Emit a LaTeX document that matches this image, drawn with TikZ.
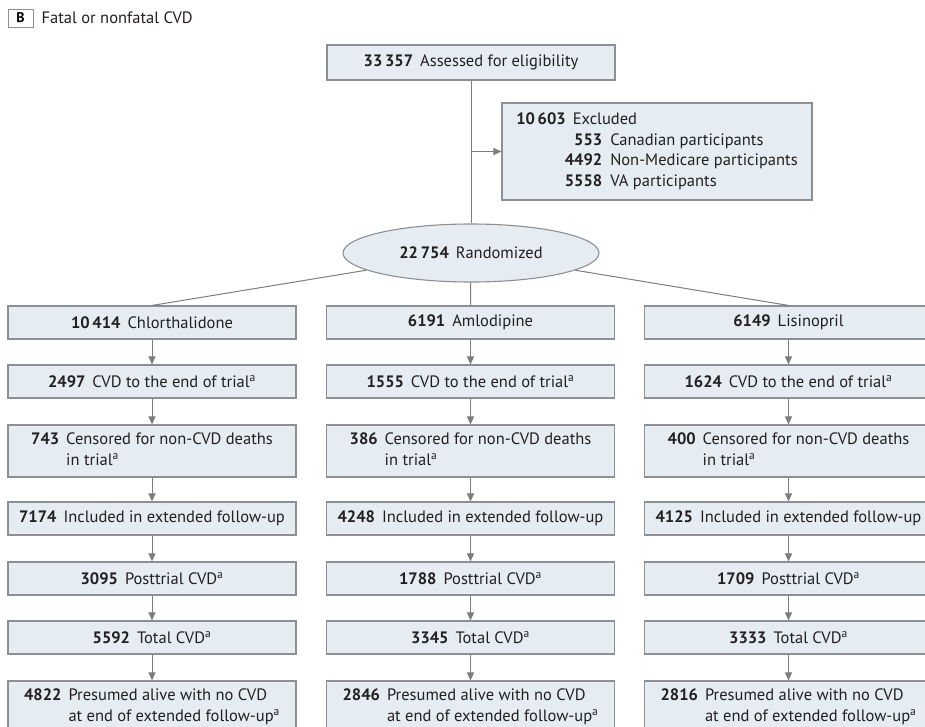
\documentclass[tikz,border=0pt]{standalone}
\usepackage{fontspec}
\setmainfont{PT Sans}
\usetikzlibrary{arrows.meta,shapes.geometric,positioning}

\definecolor{boxfill}{HTML}{E5EDF2}
\definecolor{boxline}{HTML}{8C9094}
\definecolor{linkgray}{HTML}{7D7D7D}
\definecolor{inkdark}{HTML}{231F20}

\newcommand{\nlab}[2]{\textbf{#1}\hspace{7pt}#2}
\newcommand{\twolines}[2]{\begin{tabular}[t]{@{}l@{}}#1\\#2\end{tabular}}

\tikzset{
  flowbox/.style={draw=boxline, fill=boxfill, line width=1.1pt,
    minimum width=288pt, minimum height=33pt, inner sep=0pt, text=inkdark},
  tallbox/.style={flowbox, minimum height=52pt},
  link/.style={draw=linkgray, line width=1pt},
  linkarrow/.style={link, -{Triangle[length=8pt,width=7pt]}},
}

\begin{document}
\begin{tikzpicture}[x=1pt, y=-1pt, font=\fontsize{16.5}{20.5}\selectfont]
  \clip (0,0) rectangle (925,727);
  % panel title
  \node[draw=boxline, line width=0.9pt, minimum width=25pt, minimum height=18pt,
    inner sep=0pt, font=\fontsize{14}{16}\selectfont\bfseries] (panel) at (20.5,18) {B};
  \node[right=8pt of panel, inner sep=0pt, text=inkdark] (title) {Fatal or nonfatal CVD};
  % enrollment
  \node[flowbox, minimum height=35pt] (assess) at (471,62.5) {\nlab{33\,357}{Assessed for eligibility}};
  \node[flowbox, minimum width=310pt, minimum height=97pt, align=left] (excl) at (657,151.5)
    {\nlab{10\,603}{Excluded}\\
     \makebox[86pt][r]{\textbf{553}}\hspace{8pt}Canadian participants\\
     \makebox[86pt][r]{\textbf{4492}}\hspace{8pt}Non-Medicare participants\\
     \makebox[86pt][r]{\textbf{5558}}\hspace{8pt}VA participants};
  \node[ellipse, draw=boxline, fill=boxfill, line width=1.1pt, minimum width=256pt,
    minimum height=58pt, inner sep=0pt, text=inkdark] (rand) at (471,253) {\nlab{22\,754}{Randomized}};
  % chlorthalidone
  \node[flowbox] (c1) at (152,322.5) {\nlab{10\,414}{Chlorthalidone}};
  \node[flowbox] (c2) at (152,381.5) {\nlab{2497}{CVD to the end of trial\textsuperscript{a}}};
  \node[tallbox] (c3) at (152,451) {\nlab{743}{\twolines{Censored for non-CVD deaths}{in trial\textsuperscript{a}}}};
  \node[flowbox] (c4) at (152,518.5) {\nlab{7174}{Included in extended follow-up}};
  \node[flowbox] (c5) at (152,578.5) {\nlab{3095}{Posttrial CVD\textsuperscript{a}}};
  \node[flowbox] (c6) at (152,637.5) {\nlab{5592}{Total CVD\textsuperscript{a}}};
  \node[tallbox] (c7) at (152,707) {\nlab{4822}{\twolines{Presumed alive with no CVD}{at end of extended follow-up\textsuperscript{a}}}};
  % amlodipine
  \node[flowbox] (a1) at (470.5,322.5) {\nlab{6191}{Amlodipine}};
  \node[flowbox] (a2) at (470.5,381.5) {\nlab{1555}{CVD to the end of trial\textsuperscript{a}}};
  \node[tallbox] (a3) at (470.5,451) {\nlab{386}{\twolines{Censored for non-CVD deaths}{in trial\textsuperscript{a}}}};
  \node[flowbox] (a4) at (470.5,518.5) {\nlab{4248}{Included in extended follow-up}};
  \node[flowbox] (a5) at (470.5,578.5) {\nlab{1788}{Posttrial CVD\textsuperscript{a}}};
  \node[flowbox] (a6) at (470.5,637.5) {\nlab{3345}{Total CVD\textsuperscript{a}}};
  \node[tallbox] (a7) at (470.5,707) {\nlab{2846}{\twolines{Presumed alive with no CVD}{at end of extended follow-up\textsuperscript{a}}}};
  % lisinopril
  \node[flowbox] (l1) at (788.5,322.5) {\nlab{6149}{Lisinopril}};
  \node[flowbox] (l2) at (788.5,381.5) {\nlab{1624}{CVD to the end of trial\textsuperscript{a}}};
  \node[tallbox] (l3) at (788.5,451) {\nlab{400}{\twolines{Censored for non-CVD deaths}{in trial\textsuperscript{a}}}};
  \node[flowbox] (l4) at (788.5,518.5) {\nlab{4125}{Included in extended follow-up}};
  \node[flowbox] (l5) at (788.5,578.5) {\nlab{1709}{Posttrial CVD\textsuperscript{a}}};
  \node[flowbox] (l6) at (788.5,637.5) {\nlab{3333}{Total CVD\textsuperscript{a}}};
  \node[tallbox] (l7) at (788.5,707) {\nlab{2816}{\twolines{Presumed alive with no CVD}{at end of extended follow-up\textsuperscript{a}}}};
  % connectors
  \draw[link] (assess) -- (rand);
  \draw[linkarrow] (assess.south |- excl.west) -- (excl.west);
  \draw[link] (rand) -- (c1.north);
  \draw[link] (rand) -- (a1.north);
  \draw[link] (rand) -- (l1.north);
  \draw[linkarrow] (c1) -- (c2);
  \draw[linkarrow] (c2) -- (c3);
  \draw[linkarrow] (c3) -- (c4);
  \draw[linkarrow] (c4) -- (c5);
  \draw[linkarrow] (c5) -- (c6);
  \draw[linkarrow] (c6) -- (c7);
  \draw[linkarrow] (a1) -- (a2);
  \draw[linkarrow] (a2) -- (a3);
  \draw[linkarrow] (a3) -- (a4);
  \draw[linkarrow] (a4) -- (a5);
  \draw[linkarrow] (a5) -- (a6);
  \draw[linkarrow] (a6) -- (a7);
  \draw[linkarrow] (l1) -- (l2);
  \draw[linkarrow] (l2) -- (l3);
  \draw[linkarrow] (l3) -- (l4);
  \draw[linkarrow] (l4) -- (l5);
  \draw[linkarrow] (l5) -- (l6);
  \draw[linkarrow] (l6) -- (l7);
\end{tikzpicture}
\end{document}
